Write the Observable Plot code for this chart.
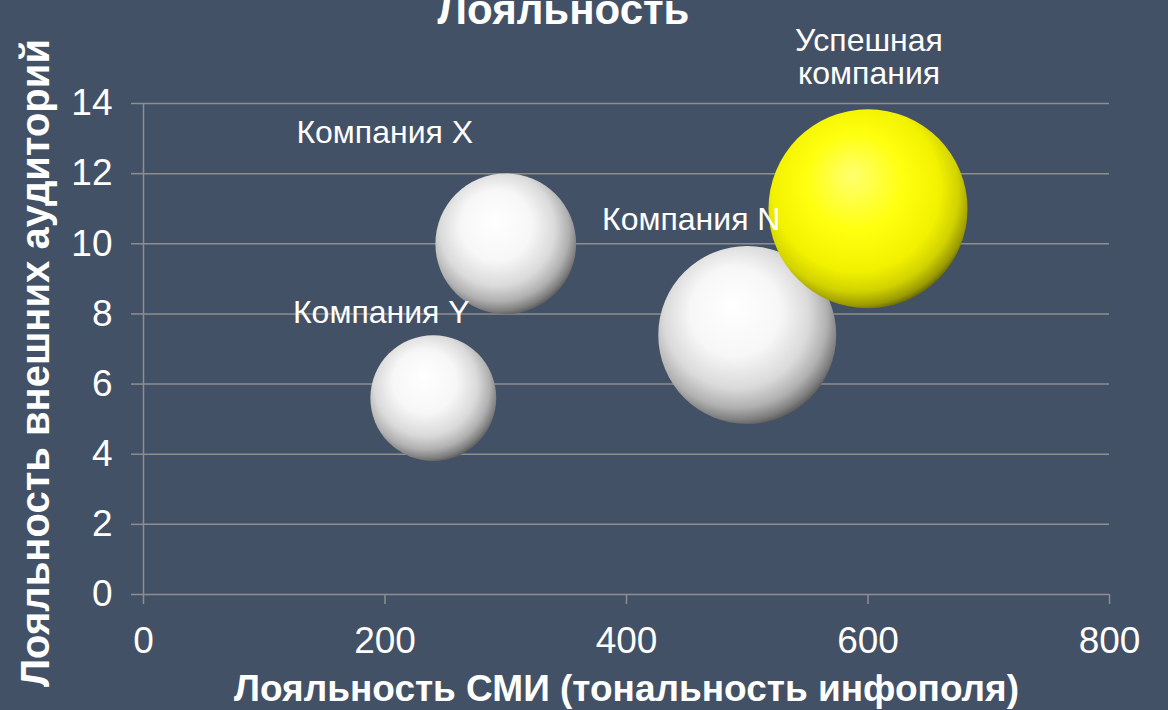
<!DOCTYPE html>
<html>
<head>
<meta charset="utf-8">
<script src="https://cdn.jsdelivr.net/npm/d3@7"></script>
<script src="https://cdn.jsdelivr.net/npm/@observablehq/plot@0.6"></script>
<style>
  html, body { margin: 0; padding: 0; background: #435166; }
  #chart svg { display: block; }
</style>
</head>
<body>
<div id="chart"></div>
<script>
const companies = ["Компания Y", "Компания X", "Компания N", "Успешная\nкомпания"];
const smiLoyalty = [240, 300, 500, 600];
const audienceLoyalty = [5.6, 10, 7.4, 11];
const bubbleSize = [4, 5, 8, 10];
const bubbleKind = ["white", "white", "white", "yellow"];
const xTicks = [0, 200, 400, 600, 800];
const yTicks = [0, 2, 4, 6, 8, 10, 12, 14];
const titleText = "Лояльность";
const xLabel = "Лояльность СМИ (тональность инфополя)";
const yLabel = "Лояльность внешних аудиторий";

const data = companies.map((name, i) => ({
  name, x: smiLoyalty[i], y: audienceLoyalty[i], size: bubbleSize[i], kind: bubbleKind[i]
}));

const GRID = "#8e8e8e";
const FONT = "'Liberation Sans', Arial, sans-serif";

const chart = Plot.plot({
  width: 1168,
  height: 710,
  marginLeft: 143,
  marginRight: 59,
  marginTop: 103,
  marginBottom: 116,
  style: { background: "#435166", color: "white", fontFamily: FONT },
  x: { domain: [0, 800], ticks: xTicks },
  y: { domain: [0, 14], ticks: yTicks },
  r: { type: "sqrt", domain: [0, 10], range: [0, 99.5] },
  marks: [
    Plot.ruleY(yTicks, { x1: 0, x2: 800, stroke: GRID, strokeWidth: 1.5 }),
    Plot.ruleX([0], { y1: 0, y2: 14, stroke: GRID, strokeWidth: 1.5 }),
    Plot.axisY(yTicks, { stroke: GRID, strokeWidth: 1.5, tickSize: 12, tickPadding: 19, fontSize: 37, label: null }),
    Plot.axisX(xTicks, { stroke: GRID, strokeWidth: 1.5, tickSize: 10, tickPadding: 22, fontSize: 37, label: null }),
    Plot.dot(data.filter(d => d.kind === "white"), { x: "x", y: "y", r: "size", fill: "url(#sphereWhite)", stroke: "none" }),
    Plot.dot(data.filter(d => d.kind === "yellow"), { x: "x", y: "y", r: "size", fill: "url(#sphereYellow)", stroke: "none" }),
    Plot.text(data.filter(d => d.name === companies[1]), { x: "x", y: "y", text: "name", dx: -121, dy: -111, fill: "white", fontSize: 32 }),
    Plot.text(data.filter(d => d.name === companies[0]), { x: "x", y: "y", text: "name", dx: -52, dy: -85, fill: "white", fontSize: 32 }),
    Plot.text(data.filter(d => d.name === companies[2]), { x: "x", y: "y", text: "name", dx: -56, dy: -115, fill: "white", fontSize: 32 }),
    Plot.text(data.filter(d => d.name === companies[3]), { x: "x", y: "y", text: "name", dx: 1, dy: -152, fill: "white", fontSize: 32, lineHeight: 1.03 }),
    Plot.text([titleText], { frameAnchor: "top", dx: -63, dy: -109, fill: "white", fontSize: 42, fontWeight: "bold" }),
    Plot.text([xLabel], { frameAnchor: "bottom", dy: 106, fill: "white", fontSize: 37, fontWeight: "bold" }),
    Plot.text([yLabel], { frameAnchor: "left", textAnchor: "middle", lineAnchor: "middle", dx: -107, dy: 14, rotate: -90, fill: "white", fontSize: 40, fontWeight: "bold" })
  ]
});

const ns = "http://www.w3.org/2000/svg";
const defs = document.createElementNS(ns, "defs");
defs.innerHTML = `
  <radialGradient id="sphereWhite" cx="0.45" cy="0.42" r="0.6" fx="0.42" fy="0.33">
    <stop offset="0" stop-color="#ffffff"/>
    <stop offset="0.42" stop-color="#f7f7f7"/>
    <stop offset="0.68" stop-color="#dadada"/>
    <stop offset="0.84" stop-color="#b0b0b0"/>
    <stop offset="0.94" stop-color="#7e7e7e"/>
    <stop offset="1" stop-color="#555555"/>
  </radialGradient>
  <radialGradient id="sphereYellow" cx="0.45" cy="0.42" r="0.6" fx="0.42" fy="0.33">
    <stop offset="0" stop-color="#ffff70"/>
    <stop offset="0.4" stop-color="#ffff10"/>
    <stop offset="0.7" stop-color="#f2f200"/>
    <stop offset="0.85" stop-color="#d2d200"/>
    <stop offset="0.95" stop-color="#9a9a00"/>
    <stop offset="1" stop-color="#5e5e00"/>
  </radialGradient>`;
chart.insertBefore(defs, chart.firstChild);
document.getElementById("chart").appendChild(chart);
</script>
</body>
</html>
